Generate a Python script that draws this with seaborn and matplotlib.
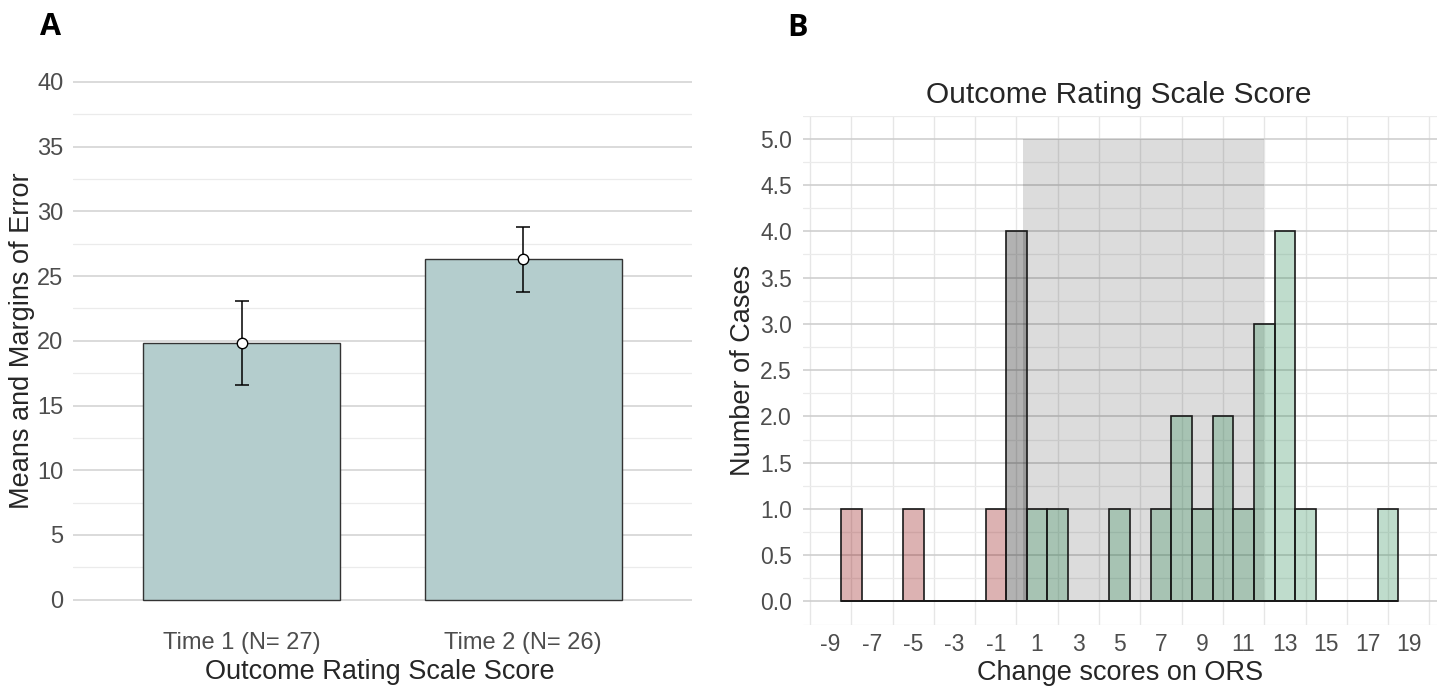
import numpy as np
import pandas as pd
import matplotlib
matplotlib.use("Agg")
import matplotlib.pyplot as plt
import seaborn as sns
from matplotlib.ticker import FixedLocator, MultipleLocator

# ---------------- data ----------------
# Panel A: means and margins of error
time_labels = ["Time 1 (N= 27)", "Time 2 (N= 26)"]
time_means = [19.8, 26.3]
time_lower = [16.6, 23.8]
time_upper = [23.1, 28.8]
y_ticks_a = [0, 5, 10, 15, 20, 25, 30, 35, 40]

# Panel B: histogram of change scores (bin centre -> number of cases)
change_scores = [-8, -5, -1, 0, 1, 2, 5, 7, 8, 9, 10, 11, 12, 13, 14, 18]
case_counts = [1, 1, 1, 4, 1, 1, 1, 1, 2, 1, 2, 1, 3, 4, 1, 1]
change_groups = ["Deteriorated" if s < 0 else ("No change" if s == 0 else "Improved")
                 for s in change_scores]
x_ticks_b = [-9, -7, -5, -3, -1, 1, 3, 5, 7, 9, 11, 13, 15, 17, 19]
y_ticks_b = [0.0, 0.5, 1.0, 1.5, 2.0, 2.5, 3.0, 3.5, 4.0, 4.5, 5.0]
band_range = (0.3, 12.0)
band_height = 5.0

group_colors = {"Deteriorated": "#8b0000", "No change": "#000000", "Improved": "#2e8b57"}

# ---------------- style ----------------
sns.set_theme(style="white")
plt.rcParams["font.family"] = ["Liberation Sans", "DejaVu Sans"]

TICK_COLOR = "#4d4d4d"
MAJOR_GRID = "#d4d4d4"
MINOR_GRID = "#ebebeb"
TICK_SIZE = 17
TITLE_SIZE = 19.5

fig = plt.figure(figsize=(14.41, 6.86), dpi=100)
W, H = 1441, 686

def axes_px(x0, x1, ytop, ybot):
    return fig.add_axes([x0 / W, 1 - ybot / H, (x1 - x0) / W, (ybot - ytop) / H])

# ---------------- Panel A ----------------
axA = axes_px(73, 692, 56.1, 625.5)
dfA = pd.DataFrame({"time": time_labels, "mean": time_means})
sns.barplot(data=dfA, x="time", y="mean", color="#b4cdcd", saturation=1,
            edgecolor="#333333", linewidth=1.0, width=0.7, errorbar=None, ax=axA)
pos = np.arange(len(time_labels))
means = np.array(time_means)
yerr = [means - np.array(time_lower), np.array(time_upper) - means]
axA.errorbar(pos, means, yerr=yerr, fmt="none", ecolor="black",
             elinewidth=1.1, capsize=5, capthick=1.1, zorder=3)
axA.plot(pos, means, "o", ms=7.5, mfc="white", mec="black", mew=1.0, zorder=4)
axA.set_xlim(-0.6, 1.6)
axA.set_ylim(-2, 42)
axA.yaxis.set_major_locator(FixedLocator(y_ticks_a))
axA.yaxis.set_minor_locator(MultipleLocator(2.5))
axA.set_axisbelow(True)
axA.yaxis.grid(True, which="major", color=MAJOR_GRID, lw=1.2)
axA.yaxis.grid(True, which="minor", color=MINOR_GRID, lw=0.9)
axA.xaxis.grid(False)
axA.tick_params(axis="both", which="both", length=0, labelsize=TICK_SIZE, labelcolor=TICK_COLOR)
axA.tick_params(axis="y", pad=7)
axA.tick_params(axis="x", pad=4.5)
axA.set_xlabel("")
axA.set_ylabel("")
for s in axA.spines.values():
    s.set_visible(False)

# ---------------- Panel B ----------------
axB = axes_px(803, 1436.6, 115.7, 624.6)
dfB = pd.DataFrame({"score": change_scores, "count": case_counts, "group": change_groups})
axB.add_patch(plt.Rectangle((band_range[0], 0), band_range[1] - band_range[0], band_height,
                            facecolor="black", alpha=0.137, edgecolor="none", zorder=0.9))
n_before = len(axB.patches)
sns.histplot(data=dfB, x="score", weights="count", hue="group", discrete=True,
             palette=group_colors, hue_order=["Deteriorated", "No change", "Improved"],
             alpha=0.3, edgecolor="#1a1a1a", linewidth=1.2, legend=False, ax=axB)
for p in axB.patches[n_before:]:
    fc = p.get_facecolor()
    p.set_alpha(None)
    p.set_facecolor((fc[0], fc[1], fc[2], 0.3))
    p.set_edgecolor((0.1, 0.1, 0.1, 1.0))
    p.set_zorder(2)

axB.set_xlim(-10.34, 20.35)
axB.set_ylim(-0.25, 5.25)
axB.xaxis.set_major_locator(FixedLocator(x_ticks_b))
axB.xaxis.set_minor_locator(FixedLocator(list(range(-10, 21, 2))))
axB.yaxis.set_major_locator(FixedLocator(y_ticks_b))
axB.yaxis.set_minor_locator(MultipleLocator(0.25))
axB.set_yticklabels([f"{v:.1f}" for v in y_ticks_b])
axB.set_xticklabels([str(v) for v in x_ticks_b])
axB.set_axisbelow(True)
axB.yaxis.grid(True, which="major", color="#cfcfcf", lw=1.2)
axB.yaxis.grid(True, which="minor", color=MINOR_GRID, lw=0.9)
axB.xaxis.grid(False, which="major")
axB.xaxis.grid(True, which="minor", color="#e6e6e6", lw=1.0)
axB.tick_params(axis="both", which="both", length=0, labelsize=16.5, labelcolor=TICK_COLOR)
axB.tick_params(axis="y", pad=8)
axB.tick_params(axis="x", pad=6)
axB.set_xlabel("")
axB.set_ylabel("")
for s in axB.spines.values():
    s.set_visible(False)

# ---------------- texts ----------------
def ftext(x, y, s, **kw):
    fig.text(x / W, 1 - y / H, s, **kw)

ftext(51, 27, "A", fontsize=22, fontweight="bold", family=["Open Sans", "DejaVu Sans"],
      ha="center", va="center", color="black")
ftext(797, 28, "B", fontsize=22, fontweight="bold", family=["Open Sans", "DejaVu Sans"],
      ha="center", va="center", color="black")

ftext(380, 672, "Outcome Rating Scale Score", fontsize=TITLE_SIZE, ha="center", va="center")
ftext(22, 341, "Means and Margins of Error", fontsize=TITLE_SIZE, ha="center", va="center",
      rotation=90)
ftext(1119, 95, "Outcome Rating Scale Score", fontsize=21.5, ha="center", va="center")
ftext(1120, 673, "Change scores on ORS", fontsize=TITLE_SIZE, ha="center", va="center")
ftext(743, 370, "Number of Cases", fontsize=TITLE_SIZE, ha="center", va="center", rotation=90)

fig.savefig("out.png", dpi=100)
